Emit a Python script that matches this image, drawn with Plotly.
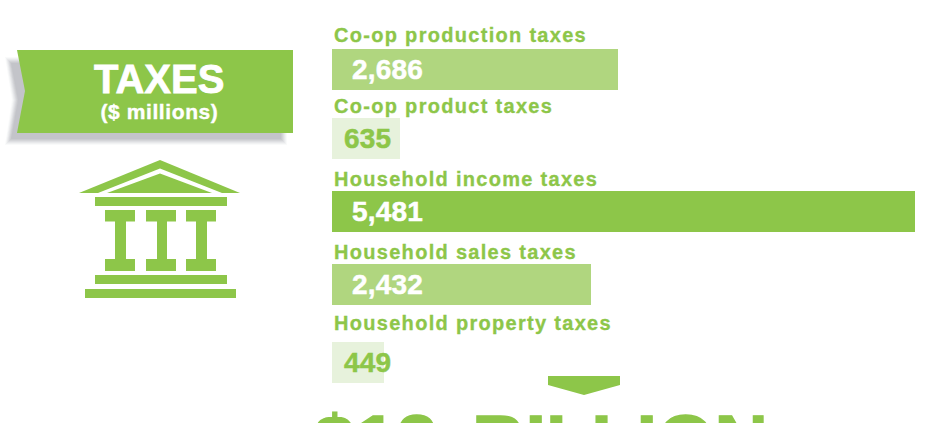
import plotly.graph_objects as go

categories = ["Co-op production taxes", "Co-op product taxes", "Household income taxes",
              "Household sales taxes", "Household property taxes"]
value_labels = ["2,686", "635", "5,481", "2,432", "449"]
bar_lengths = [2686, 635, 5481, 2432, 490]   # drawn length
title_main = "TAXES"
title_sub = "($ millions)"
total_text = "$12 BILLION"

W, H = 934, 423
GREEN = "#8DC649"
MID = "#B0D67F"
PALE = "#E7F2DC"
bar_colors = [MID, PALE, GREEN, MID, PALE]
label_colors = ["white", GREEN, "white", "white", GREEN]
label_shift = [18, 10, 18, 18, 10]
centres = [69.5, 138.5, 211.5, 284.5, 362.5]
cat_y = [34.5, 105.5, 178.5, 251.5, 322.5]
scale = 583 / 5481          # px per $ million
x0_px = 332
FONT = "Liberation Sans"


def path(pts):
    return "M" + " L".join(f"{x / W:.5f},{1 - y / H:.5f}" for x, y in pts) + " Z"


def rect(x0, y0, x1, y1):
    return path([(x0, y0), (x1, y0), (x1, y1), (x0, y1)])


def shape(pts_path, color, opacity=1, layer="above"):
    return dict(type="path", xref="paper", yref="paper", path=pts_path,
                fillcolor=color, opacity=opacity, line=dict(width=0), layer=layer)


shapes = []
# soft ribbon shadow
for g, op in [(4, .05), (3, .07), (2, .09), (1, .11), (0, .13), (-1, .13), (-2, .13)]:
    shapes.append(shape(path([(9 - g, 61 - g), (283 + g, 61 - g), (283 + g, 141 + g),
                              (9 - g, 141 + g), (16 - g, 100)]), "#8F949C", op))
shapes.append(shape(path([(17, 50), (293, 50), (293, 133), (17, 133), (25, 91)]), GREEN))
# building icon
shapes.append(shape(path([(160, 160), (240, 193), (79, 193)]), GREEN))
shapes.append(shape(path([(160, 168.5), (222, 193), (98, 193)]), "white"))
shapes.append(shape(path([(160, 173.5), (212, 193), (107, 193)]), GREEN))
shapes.append(shape(rect(95, 197, 227, 206), GREEN))
for cap0, shaft0, shaft1, cap1 in [(105, 115, 126, 135), (146, 157, 167, 176), (186, 196, 207, 216)]:
    shapes.append(shape(rect(cap0, 210, cap1, 221.5), GREEN))
    shapes.append(shape(rect(shaft0, 221, shaft1, 260), GREEN))
    shapes.append(shape(rect(cap0, 259, cap1, 271), GREEN))
shapes.append(shape(rect(95, 275, 227, 284), GREEN))
shapes.append(shape(rect(85, 289, 236, 298), GREEN))
# arrow
shapes.append(shape(path([(548, 376), (620, 376), (620, 385), (584, 395), (548, 385)]), GREEN))

fig = go.Figure(go.Bar(
    x=bar_lengths, y=centres, orientation="h", width=41,
    marker=dict(color=bar_colors, line=dict(width=0)), hoverinfo="skip",
))

ann = []
for c, y in zip(categories, cat_y):
    ann.append(dict(x=0, y=y, xref="x", yref="y", text=f"<b>{c}</b>", showarrow=False,
                    xanchor="left", yanchor="middle", xshift=0,
                    font=dict(family=FONT, size=20, color=GREEN)))
for t, y, col, s in zip(value_labels, centres, label_colors, label_shift):
    ann.append(dict(x=0, y=y, xref="x", yref="y", text=f"<b>{t}</b>", showarrow=False,
                    xanchor="left", yanchor="middle", xshift=s,
                    font=dict(family=FONT, size=28, color=col)))
ann.append(dict(x=158.5 / W, y=1 - 79 / H, xref="paper", yref="paper", text=f"<b>{title_main}</b>",
                showarrow=False, xanchor="center", yanchor="middle",
                font=dict(family=FONT, size=40, color="white")))
ann.append(dict(x=159 / W, y=1 - 112 / H, xref="paper", yref="paper", text=f"<b>{title_sub}</b>",
                showarrow=False, xanchor="center", yanchor="middle",
                font=dict(family=FONT, size=21, color="white")))
ann.append(dict(x=541 / W, y=1 - 441.5 / H, xref="paper", yref="paper", text=f"<b>{total_text}</b>",
                showarrow=False, xanchor="center", yanchor="middle",
                font=dict(family=FONT, size=74, color=GREEN)))

fig.update_layout(
    width=W, height=H, margin=dict(l=0, r=0, t=0, b=0),
    paper_bgcolor="white", plot_bgcolor="white", showlegend=False, bargap=0,
    xaxis=dict(range=[-x0_px / scale, (W - x0_px) / scale], visible=False, fixedrange=True),
    yaxis=dict(range=[H, 0], visible=False, fixedrange=True),
    shapes=shapes, annotations=ann,
)

post = """
document.body.style.margin = '0';
document.querySelectorAll('.annotation-text').forEach(function (t) {
  var s = t.textContent, before = t.getBBox().x, fill = t.style.fill || t.getAttribute('fill');
  var left = true;
  if (/taxes$/.test(s)) { t.style.letterSpacing = '1.3px'; t.style.strokeWidth = '0.3px'; }
  else if (/^[0-9,]+$/.test(s)) { t.style.letterSpacing = '0.2px'; t.style.strokeWidth = '0.5px'; }
  else if (/millions/.test(s)) { t.style.letterSpacing = '0.6px'; t.style.strokeWidth = '0.4px'; left = false; }
  else if (/BILLION/.test(s)) { t.style.wordSpacing = '14px'; t.style.strokeWidth = '1.4px'; left = false; }
  else { t.style.strokeWidth = '0.8px'; left = false; }
  t.style.stroke = fill;
  if (left) {
    t.setAttribute('x', parseFloat(t.getAttribute('x')) + before - t.getBBox().x);
  }
});
"""
fig.write_html("out.html", post_script=post, config={"displayModeBar": False})
